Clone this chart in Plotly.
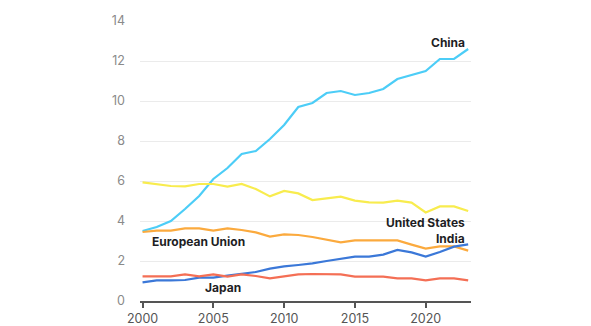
import plotly.graph_objects as go

years = list(range(2000, 2024))

china = [3.5, 3.7, 4.0, 4.6, 5.25, 6.1, 6.65, 7.35, 7.5, 8.1, 8.8, 9.7, 9.9, 10.4, 10.5, 10.3, 10.4, 10.6, 11.1, 11.3, 11.5, 12.1, 12.1, 12.6]
united_states = [5.93, 5.85, 5.75, 5.73, 5.85, 5.85, 5.72, 5.85, 5.6, 5.23, 5.5, 5.38, 5.05, 5.13, 5.22, 5.02, 4.93, 4.92, 5.02, 4.92, 4.43, 4.73, 4.73, 4.5]
european_union = [3.45, 3.52, 3.52, 3.63, 3.63, 3.52, 3.63, 3.55, 3.43, 3.22, 3.33, 3.3, 3.2, 3.08, 2.93, 3.03, 3.03, 3.03, 3.03, 2.82, 2.62, 2.73, 2.73, 2.52]
india = [0.93, 1.03, 1.03, 1.05, 1.17, 1.17, 1.27, 1.37, 1.45, 1.62, 1.73, 1.8, 1.88, 2.0, 2.1, 2.22, 2.22, 2.32, 2.55, 2.43, 2.22, 2.45, 2.72, 2.83]
japan = [1.23, 1.23, 1.23, 1.33, 1.23, 1.33, 1.22, 1.33, 1.25, 1.13, 1.23, 1.33, 1.35, 1.35, 1.33, 1.22, 1.22, 1.22, 1.13, 1.13, 1.03, 1.13, 1.13, 1.03]

series = [
    ("China", china, "#4ccdf7"),
    ("United States", united_states, "#f8ec4e"),
    ("European Union", european_union, "#fbaa3e"),
    ("India", india, "#3b78d8"),
    ("Japan", japan, "#f46f55"),
]

x_ticks = [2000, 2005, 2010, 2015, 2020]
y_ticks = [0, 2, 4, 6, 8, 10, 12, 14]

fig = go.Figure()
for name, vals, color in series:
    fig.add_trace(go.Scatter(x=years, y=vals, mode="lines", name=name,
                             line=dict(color=color, width=2.2), hoverinfo="skip"))

label_font = dict(family="Inter, Roboto, sans-serif", size=12, color="#1e1e24")
annots = [
    ("China", 2022.9, 12.95, "right"),
    ("United States", 2022.9, 3.95, "right"),
    ("India", 2022.9, 3.15, "right"),
    ("European Union", 2000.55, 2.97, "left"),
    ("Japan", 2004.3, 0.7, "left"),
]
for text, x, y, align in annots:
    fig.add_annotation(x=x, y=y, text="<b>%s</b>" % text, showarrow=False,
                       xanchor=align, yanchor="middle", font=label_font)

fig.update_layout(
    width=591, height=326,
    margin=dict(l=140, r=120, t=21, b=25),
    paper_bgcolor="white", plot_bgcolor="white",
    showlegend=False,
    xaxis=dict(range=[1999.82, 2023.2], tickvals=x_ticks, showgrid=False,
               showline=True, linecolor="#555555", linewidth=1.5,
               ticks="outside", ticklen=5, tickwidth=1.5, tickcolor="#555555",
               tickfont=dict(family="Inter, Roboto, sans-serif", size=12.5, color="#555555"),
               zeroline=False, fixedrange=True, automargin=False),
    yaxis=dict(range=[0, 14], tickvals=y_ticks, showgrid=True,
               gridcolor="#ebebeb", gridwidth=1, zeroline=False, showline=False,
               ticks="", ticklabelstandoff=14,
               tickfont=dict(family="Inter, Roboto, sans-serif", size=12.5, color="#8a8a8a"),
               fixedrange=True, automargin=False),
)

fig.write_html("out.html")
